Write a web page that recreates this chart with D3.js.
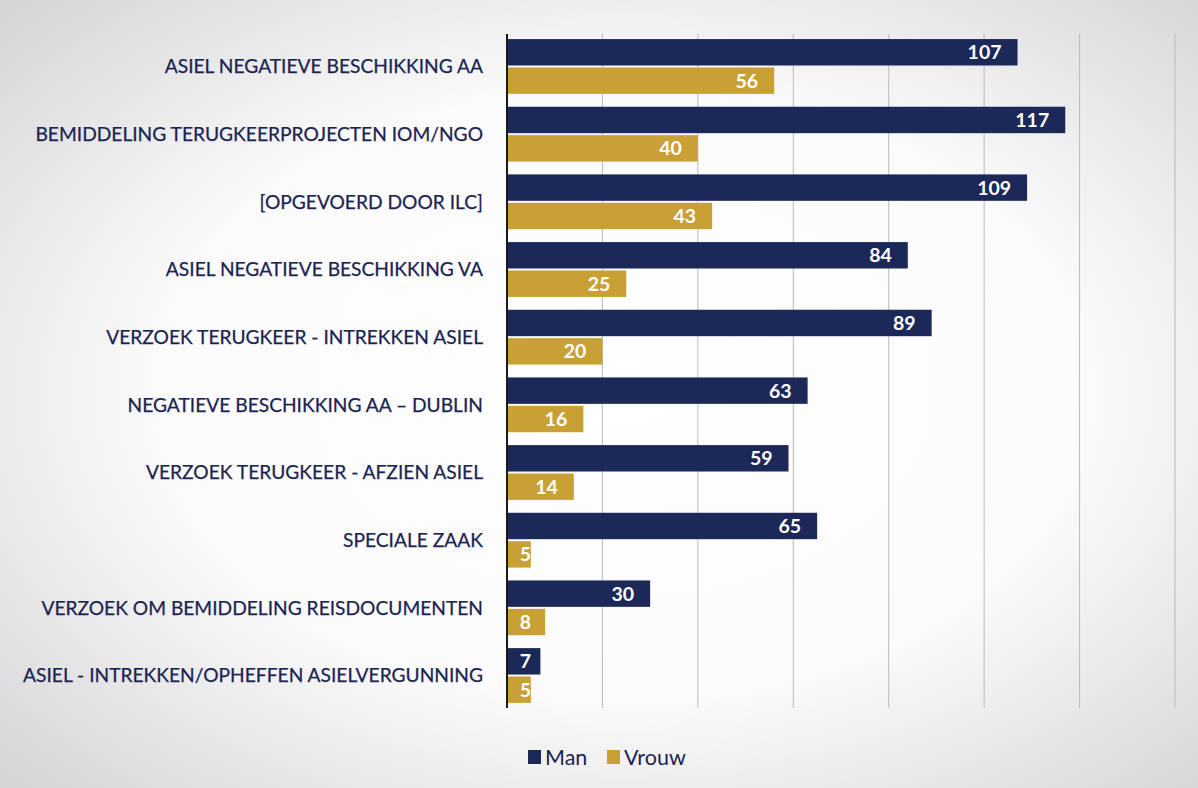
<!DOCTYPE html>
<html>
<head>
<meta charset="utf-8">
<script src="https://cdn.jsdelivr.net/npm/d3@7"></script>
<style>
  html, body { margin: 0; padding: 0; background: #fff; }
  svg { display: block; }
</style>
</head>
<body>
<svg id="chart" width="1198" height="788"></svg>
<script>
// Categories (top to bottom) and counts per gender
const categories = [
  "ASIEL NEGATIEVE BESCHIKKING AA",
  "BEMIDDELING TERUGKEERPROJECTEN IOM/NGO",
  "[OPGEVOERD DOOR ILC]",
  "ASIEL NEGATIEVE BESCHIKKING VA",
  "VERZOEK TERUGKEER - INTREKKEN ASIEL",
  "NEGATIEVE BESCHIKKING AA \u2013 DUBLIN",
  "VERZOEK TERUGKEER - AFZIEN ASIEL",
  "SPECIALE ZAAK",
  "VERZOEK OM BEMIDDELING REISDOCUMENTEN",
  "ASIEL - INTREKKEN/OPHEFFEN ASIELVERGUNNING"
];
const manValues   = [107, 117, 109, 84, 89, 63, 59, 65, 30, 7];
const vrouwValues = [56, 40, 43, 25, 20, 16, 14, 5, 8, 5];
const seriesNames = ["Man", "Vrouw"];
const xTicks = [0, 20, 40, 60, 80, 100, 120, 140];

const colors = { Man: "#1c2858", Vrouw: "#c9a035" };
const textColor = "#1b2352";
const fontFamily = "Lato, 'Open Sans', sans-serif";

const svg = d3.select("#chart");
const W = 1198, H = 788;

// soft paper-like background, lighter in the middle
const defs = svg.append("defs");
const bg = defs.append("radialGradient").attr("id", "bg")
  .attr("cx", "52%").attr("cy", "50%").attr("r", "70%");
bg.append("stop").attr("offset", "0%").attr("stop-color", "#ffffff");
bg.append("stop").attr("offset", "55%").attr("stop-color", "#fbfbfb");
bg.append("stop").attr("offset", "100%").attr("stop-color", "#d6d6d8");
svg.append("rect").attr("width", W).attr("height", H).attr("fill", "url(#bg)");

const x = d3.scaleLinear().domain([0, 140]).range([507, 1175]);
const y = d3.scaleBand().domain(categories).range([34, 708])
  .paddingInner(0.19).paddingOuter(0.075);
const sub = d3.scaleBand().domain(seriesNames).range([0, y.bandwidth()]).paddingInner(0.07);

// vertical gridlines
svg.append("g").selectAll("line")
  .data(xTicks.filter(t => t > 0))
  .join("line")
  .attr("x1", d => x(d)).attr("x2", d => x(d))
  .attr("y1", 34).attr("y2", 708)
  .attr("stroke", "#b9bac2").attr("stroke-width", 1);

// bars
const rows = categories.map((c, i) => ({ cat: c, Man: manValues[i], Vrouw: vrouwValues[i] }));
const groups = svg.append("g").selectAll("g")
  .data(rows).join("g")
  .attr("transform", d => `translate(0,${y(d.cat)})`);

const cells = groups.selectAll("g.cell")
  .data(d => seriesNames.map(s => ({ s, v: d[s] })))
  .join("g").attr("class", "cell");

cells.append("rect")
  .attr("x", x(0))
  .attr("y", d => sub(d.s))
  .attr("width", d => x(d.v) - x(0))
  .attr("height", sub.bandwidth())
  .attr("fill", d => colors[d.s]);

cells.append("text")
  .attr("x", d => Math.max(x(d.v) - 16, x(0) + 24))
  .attr("y", d => sub(d.s) + sub.bandwidth() / 2)
  .attr("dy", "0.36em")
  .attr("text-anchor", "end")
  .attr("fill", "#ffffff")
  .attr("font-family", fontFamily)
  .attr("font-weight", 700)
  .attr("font-size", 19.5)
  .text(d => d.v);

// category axis line
svg.append("line")
  .attr("x1", x(0)).attr("x2", x(0))
  .attr("y1", 34).attr("y2", 708)
  .attr("stroke", "#1a1a1a").attr("stroke-width", 2);

// category labels
svg.append("g").selectAll("text")
  .data(categories).join("text")
  .attr("x", 483)
  .attr("y", d => y(d) + y.bandwidth() / 2)
  .attr("dy", "0.36em")
  .attr("text-anchor", "end")
  .attr("fill", textColor)
  .attr("font-family", fontFamily)
  .attr("font-size", 19.2)
  .attr("stroke", textColor)
  .attr("stroke-width", 0.25)
  .text(d => d);

// legend
const legend = svg.append("g").attr("transform", "translate(528,757)");
const items = legend.selectAll("g").data(seriesNames).join("g")
  .attr("transform", (d, i) => `translate(${i * 79},0)`);
items.append("rect").attr("x", 0).attr("y", -7).attr("width", 13).attr("height", 14)
  .attr("fill", d => colors[d]);
items.append("text").attr("x", 17).attr("y", 0).attr("dy", "0.36em")
  .attr("fill", textColor).attr("font-family", fontFamily).attr("font-size", 21.5)
  .text(d => d);
</script>
</body>
</html>
